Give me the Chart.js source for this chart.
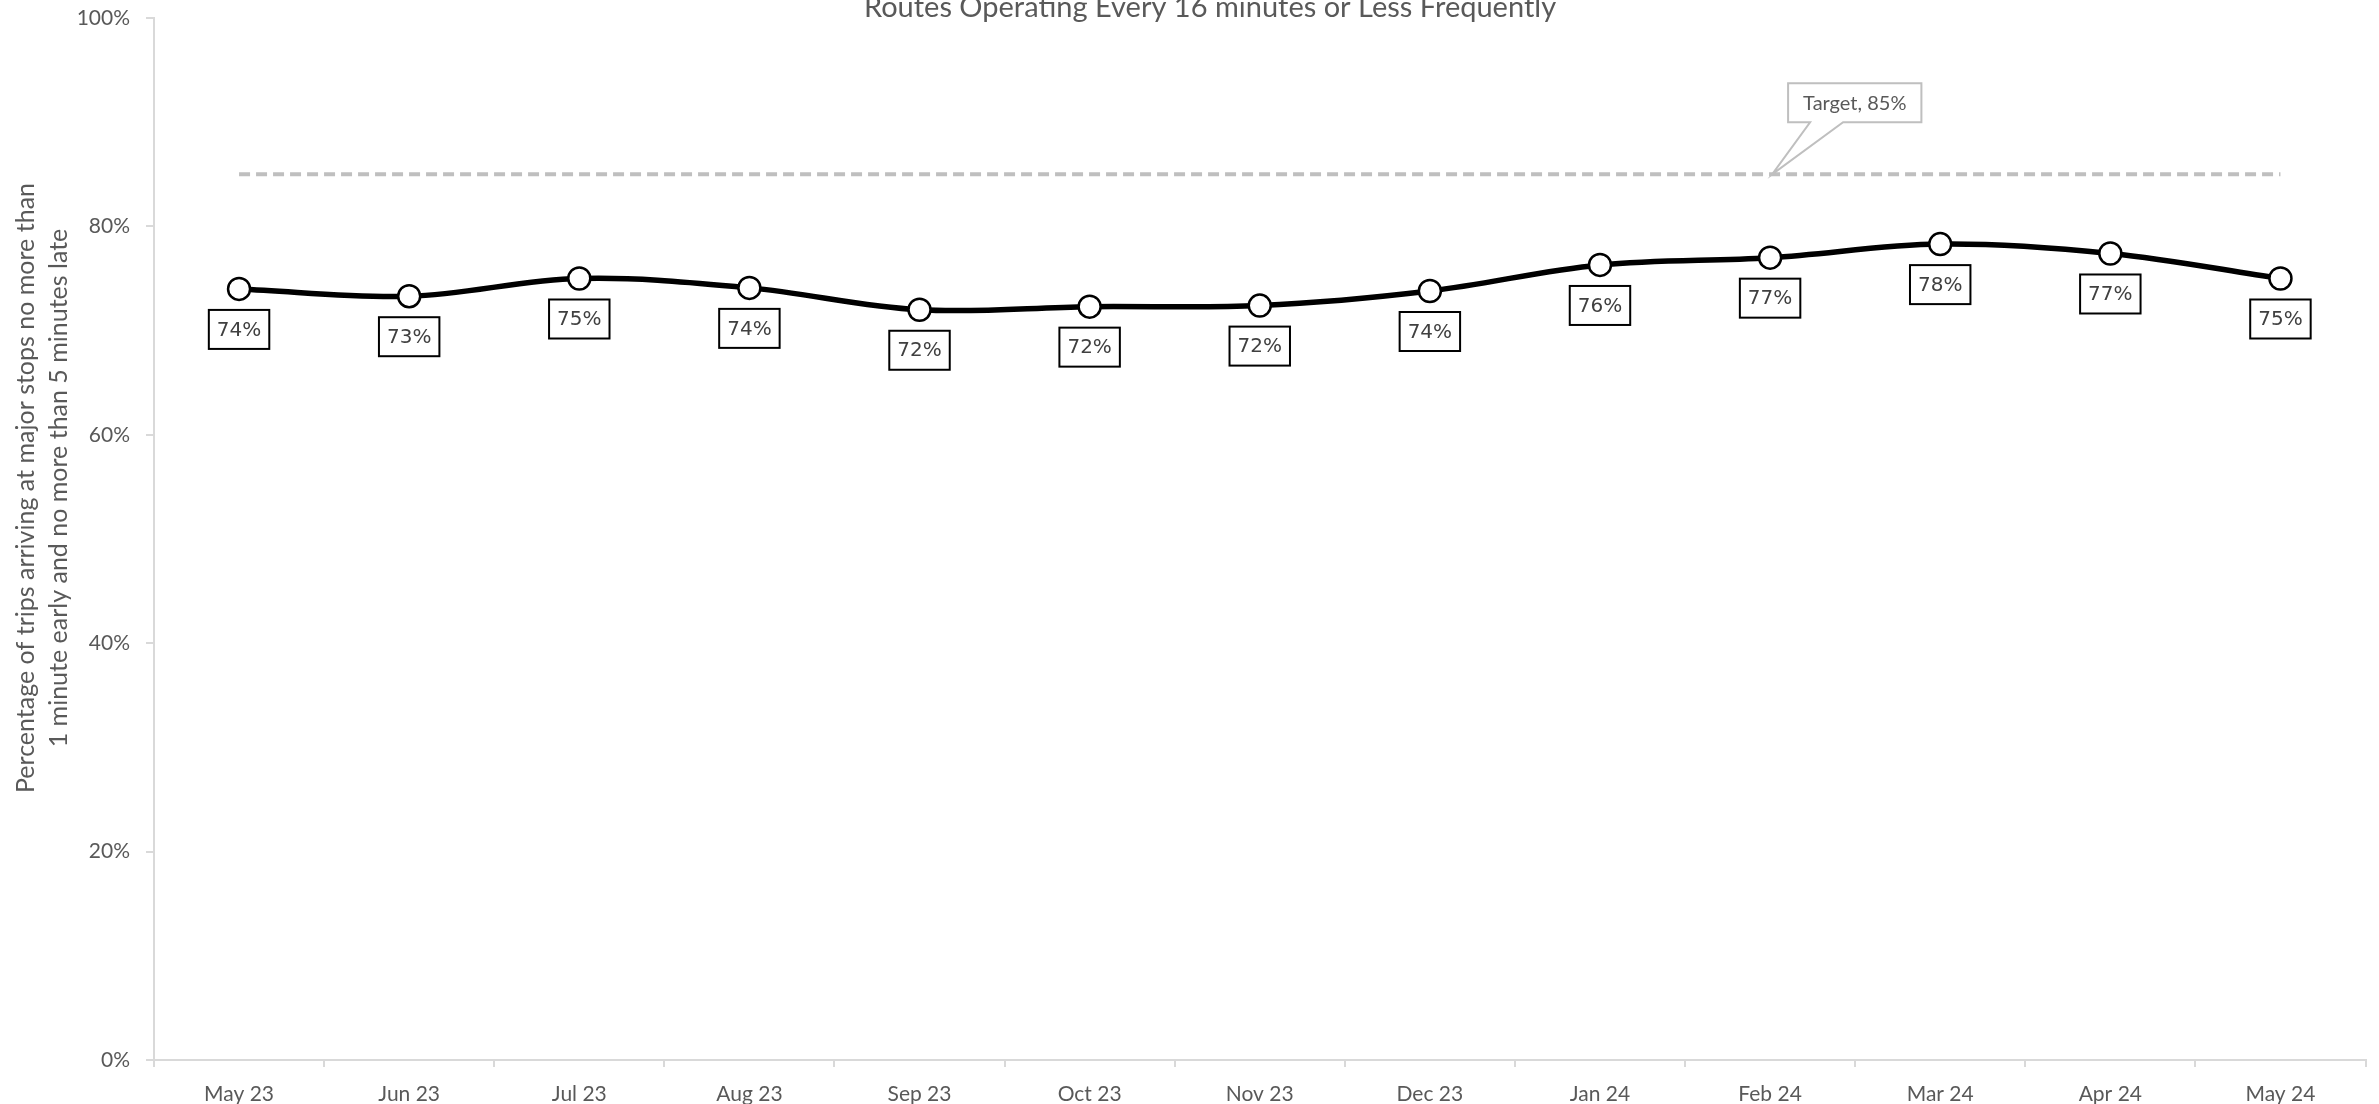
<!DOCTYPE html>
<html>
<head>
<meta charset="utf-8">
<script src="https://cdn.jsdelivr.net/npm/chart.js@4"></script>
<style>
  html, body { margin: 0; padding: 0; background: #fff; }
  #wrap { width: 2379px; height: 1104px; }
</style>
</head>
<body>
<div id="wrap"><canvas id="myChart" width="2379" height="1104"></canvas></div>
<script>
const months = ["May 23", "Jun 23", "Jul 23", "Aug 23", "Sep 23", "Oct 23", "Nov 23",
  "Dec 23", "Jan 24", "Feb 24", "Mar 24", "Apr 24", "May 24"];
const onTime = [74.0, 73.3, 75.0, 74.1, 72.0, 72.3, 72.4, 73.8, 76.3, 77.0, 78.3, 77.4, 75.0];
const target = [85, 85, 85, 85, 85, 85, 85, 85, 85, 85, 85, 85, 85];
const yTicks = [0, 20, 40, 60, 80, 100];
const targetLabel = "Target, 85%";
const targetAt = 9; // callout points at Feb 24
const titleText = "Routes Operating Every 16 minutes or Less Frequently";
const yTitle = ["Percentage of trips arriving at major stops no more than",
  "1 minute early and no more than 5 minutes late"];

const grey = "#595959";
const axisFont = "Lato, 'Open Sans', sans-serif";

// boxed % labels under each point
const pointLabels = {
  id: "pointLabels",
  afterDatasetsDraw(chart) {
    const ctx = chart.ctx;
    const meta = chart.getDatasetMeta(0);
    ctx.save();
    ctx.font = "20px 'DejaVu Sans'";
    ctx.textAlign = "center";
    ctx.textBaseline = "middle";
    meta.data.forEach((pt, i) => {
      const txt = Math.round(onTime[i]) + "%";
      const w = ctx.measureText(txt).width + 16;
      const h = 39;
      const top = pt.y + 21;
      ctx.fillStyle = "#fff";
      ctx.fillRect(pt.x - w / 2, top, w, h);
      ctx.strokeStyle = "#000";
      ctx.lineWidth = 2;
      ctx.strokeRect(pt.x - w / 2, top, w, h);
      ctx.fillStyle = "#404040";
      ctx.fillText(txt, pt.x, top + h / 2 + 1);
    });
    ctx.restore();
  }
};

// target callout, title and y axis title
const extras = {
  id: "extras",
  afterDraw(chart) {
    const ctx = chart.ctx;
    const xs = chart.scales.x, ys = chart.scales.y;
    ctx.save();
    // callout
    const tx = xs.getPixelForValue(targetAt) + 2;
    const ty = ys.getPixelForValue(target[targetAt]);
    ctx.font = "20px " + axisFont;
    const bw = ctx.measureText(targetLabel).width + 30;
    const bx = tx + 16, by = ty - 91, bh = 39;
    ctx.strokeStyle = "#bfbfbf";
    ctx.lineWidth = 2;
    ctx.fillStyle = "#fff";
    ctx.beginPath();
    ctx.moveTo(bx, by);
    ctx.lineTo(bx + bw, by);
    ctx.lineTo(bx + bw, by + bh);
    ctx.lineTo(bx + 55, by + bh);
    ctx.lineTo(tx, ty);
    ctx.lineTo(bx + 22, by + bh);
    ctx.lineTo(bx, by + bh);
    ctx.closePath();
    ctx.fill();
    ctx.stroke();
    ctx.fillStyle = grey;
    ctx.textAlign = "center";
    ctx.textBaseline = "middle";
    ctx.fillText(targetLabel, bx + bw / 2, by + bh / 2 + 1);
    // title
    ctx.font = "29px " + axisFont;
    ctx.fillText(titleText, 1210, 8);
    // y axis title
    ctx.font = "25px " + axisFont;
    ctx.translate(0, 488);
    ctx.rotate(-Math.PI / 2);
    ctx.fillText(yTitle[0], 0, 26);
    ctx.fillText(yTitle[1], 0, 59);
    ctx.restore();
  }
};

const canvas = document.getElementById("myChart");

const myChart = new Chart(canvas, {
  type: "line",
  data: {
    labels: months,
    datasets: [
      {
        label: "On time",
        data: onTime,
        borderColor: "#000",
        borderWidth: 5.5,
        tension: 0.35,
        pointRadius: 11,
        pointBorderWidth: 2.5,
        pointBackgroundColor: "#fff",
        pointBorderColor: "#000",
        order: 0,
      },
      {
        label: "Target",
        data: target,
        borderColor: "#bfbfbf",
        borderWidth: 4,
        borderDash: [11, 6],
        pointRadius: 0,
        order: 1,
      },
    ],
  },
  options: {
    responsive: false,
    animation: false,
    layout: { padding: { top: 18, right: 11, left: 0, bottom: 0 } },
    plugins: {
      legend: { display: false },
      tooltip: { enabled: false },
      title: { display: false },
    },
    scales: {
      x: {
        offset: true,
        grid: { offset: true, drawOnChartArea: false, color: "#d9d9d9", lineWidth: 2, tickLength: 7 },
        border: { color: "#d9d9d9", width: 2 },
        ticks: { color: grey, font: { family: axisFont, size: 21 }, padding: 15, maxRotation: 0 },
        afterFit(scale) { scale.height = 44; },
      },
      y: {
        min: 0,
        max: 100,
        afterBuildTicks(scale) { scale.ticks = yTicks.map(v => ({ value: v })); },
        grid: { drawOnChartArea: false, color: "#d9d9d9", lineWidth: 2, tickLength: 8 },
        border: { color: "#d9d9d9", width: 2 },
        ticks: {
          color: grey,
          font: { family: axisFont, size: 21 },
          padding: 16,
          callback: v => v + "%",
        },
        afterFit(scale) { scale.width = 154; scale.paddingTop = 0; scale.paddingBottom = 0; },
      },
    },
  },
  plugins: [pointLabels, extras],
});
</script>
</body>
</html>
